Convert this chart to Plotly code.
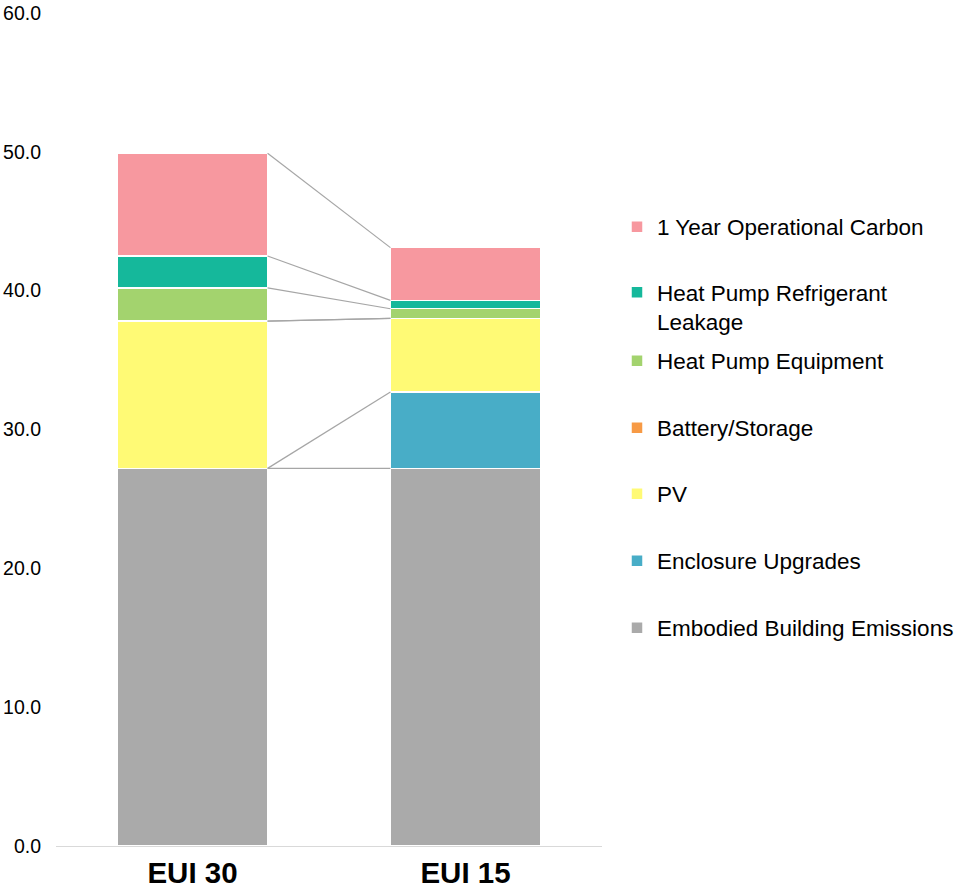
import plotly.graph_objects as go

categories = ["EUI 30", "EUI 15"]

series_names = [
    "Embodied Building Emissions",
    "Enclosure Upgrades",
    "PV",
    "Battery/Storage",
    "Heat Pump Equipment",
    "Heat Pump Refrigerant<br>Leakage",
    "1 Year Operational Carbon",
]
embodied = [27.2, 27.2]
enclosure = [0.0, 5.5]
pv = [10.6, 5.3]
battery = [0.0, 0.0]
hp_equipment = [2.4, 0.7]
hp_refrigerant = [2.3, 0.6]
operational = [7.4, 3.8]

y_ticks = [0, 10, 20, 30, 40, 50, 60]

series_values = [embodied, enclosure, pv, battery, hp_equipment, hp_refrigerant, operational]
colors = ["#AAAAAA", "#48ADC7", "#FFFA75", "#F79A45", "#A3D36E", "#15B89B", "#F7989F"]

# legend item vertical centres (pixels from top of the 894px figure)
legend_y_px = [628, 561, 494, 428, 361, 293, 227]

W, H = 964, 894
ML, MR, MT, MB = 56, 362, 13, 48
plot_w = W - ML - MR
plot_h = H - MT - MB

bar_w = 0.55
xs = list(range(len(categories)))

fig = go.Figure()

FONT = "Liberation Sans, Arial, Helvetica, sans-serif"

for i, (name, vals, col) in enumerate(zip(series_names, series_values, colors)):
    lg = "legend" if i == 0 else f"legend{i+1}"
    fig.add_trace(go.Bar(
        x=xs, y=vals, name=name, width=bar_w,
        marker=dict(color=col, line=dict(color="white", width=1.5)),
        legend=lg, showlegend=True,
    ))

# series connector lines between tops of each series
cum = [0.0 for _ in categories]
for i, vals in enumerate(series_values):
    cum = [c + v for c, v in zip(cum, vals)]
    fig.add_trace(go.Scatter(
        x=[xs[0] + bar_w / 2, xs[1] - bar_w / 2],
        y=[cum[0], cum[1]],
        mode="lines",
        line=dict(color="#A6A6A6", width=1.2),
        showlegend=False, hoverinfo="skip",
    ))

layout_legends = {}
legend_left_px = 617
for i, ypx in enumerate(legend_y_px):
    key = "legend" if i == 0 else f"legend{i+1}"
    layout_legends[key] = dict(
        x=(legend_left_px - ML) / plot_w,
        y=(H - MB - ypx) / plot_h,
        xanchor="left",
        yanchor="top" if i == 5 else "middle",
        valign="top",
        bgcolor="rgba(0,0,0,0)",
        font=dict(family=FONT, size=22.5, color="#000000"),
        itemclick=False, itemdoubleclick=False,
    )
    if i == 5:
        layout_legends[key]["y"] = (H - MB - (ypx - 22)) / plot_h

fig.update_layout(
    width=W, height=H,
    margin=dict(l=ML, r=MR, t=MT, b=MB, pad=0, autoexpand=False),
    barmode="stack",
    plot_bgcolor="white",
    paper_bgcolor="white",
    font=dict(family=FONT, color="#000000"),
    xaxis=dict(
        tickvals=xs, ticktext=categories, range=[-0.5, 1.5],
        showline=True, linecolor="#D9D9D9", linewidth=1,
        showgrid=False, zeroline=False, ticks="",
        tickfont=dict(family=FONT, size=29.5, color="#000000", weight="bold"),
        ticklabelstandoff=1, automargin=False,
    ),
    yaxis=dict(
        range=[0, 60], tickvals=y_ticks,
        ticktext=[f"{t:.1f}" for t in y_ticks],
        showgrid=False, showline=False, zeroline=False, ticks="",
        tickfont=dict(family=FONT, size=19.5, color="#000000"),
        ticklabelstandoff=14, automargin=False,
    ),
    **layout_legends,
)

fig.write_html("out.html")
